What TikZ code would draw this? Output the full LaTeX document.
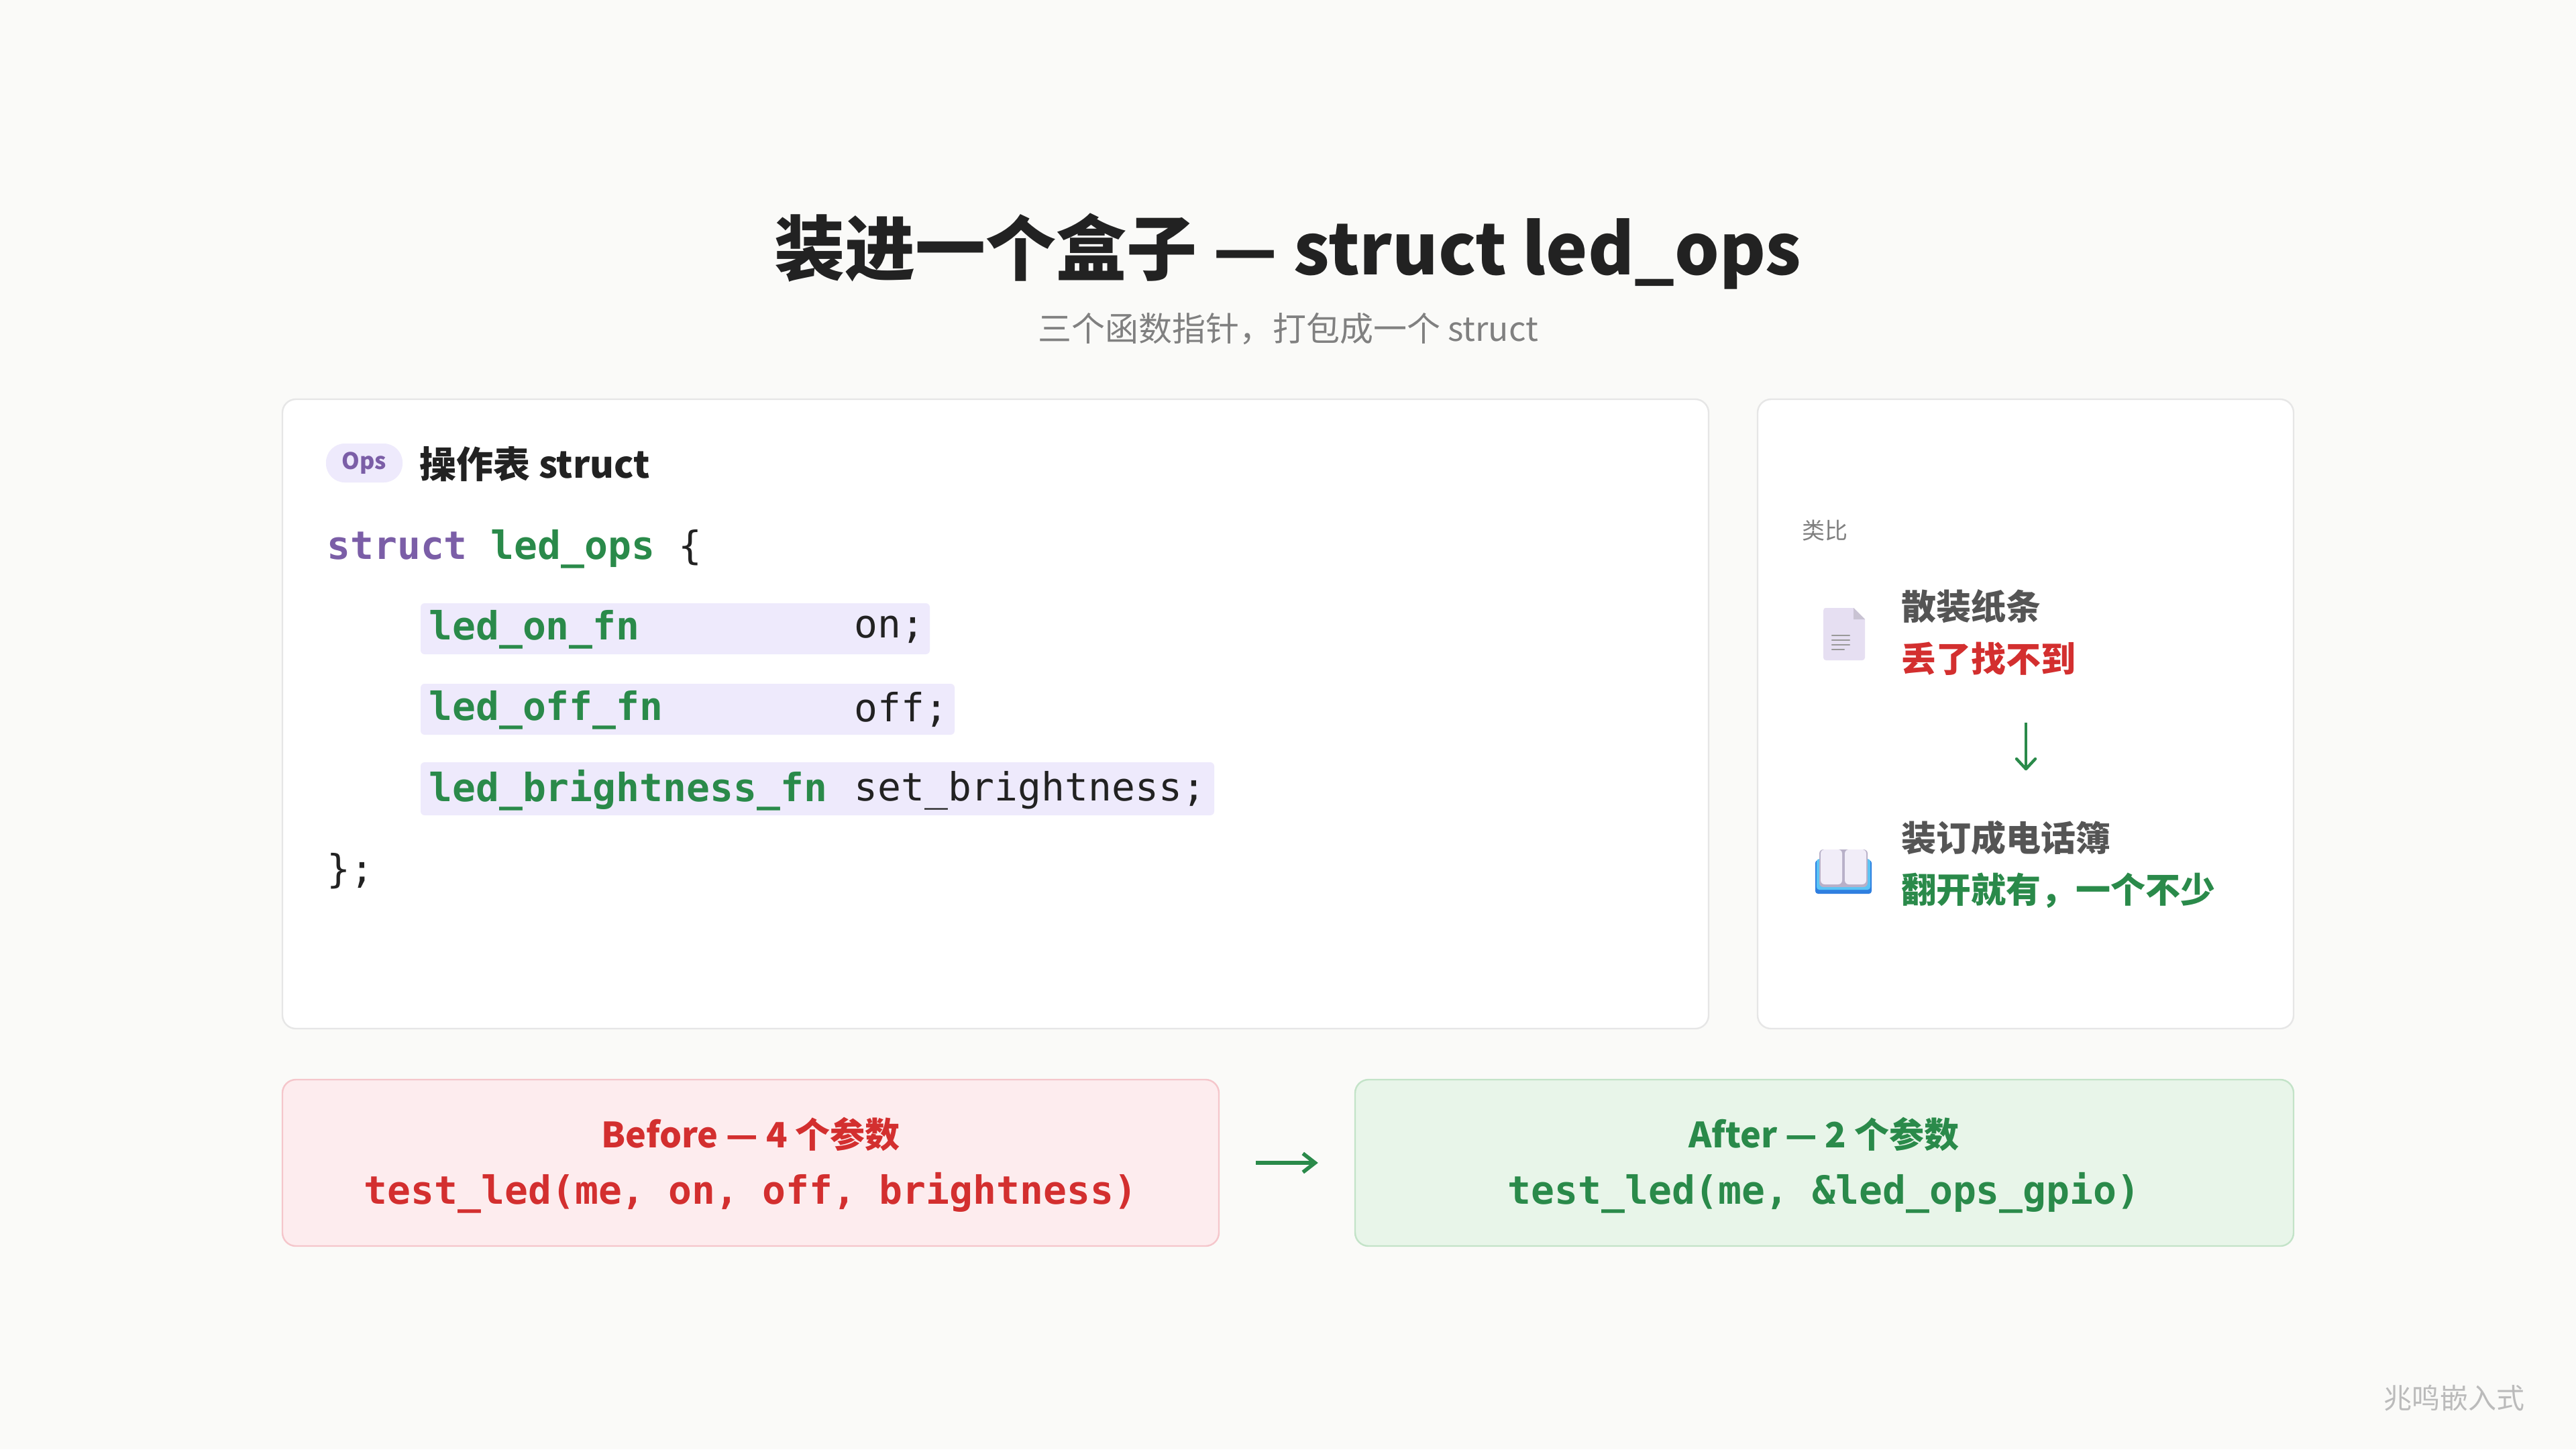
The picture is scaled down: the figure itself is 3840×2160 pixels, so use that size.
\documentclass[tikz,border=0pt]{standalone}
\usepackage{fontspec}
\usetikzlibrary{arrows.meta}
\setmainfont{Noto Sans CJK SC}
\newfontfamily\cjk{Noto Sans CJK SC}
\newcommand\cjkb{\cjk\bfseries}
\setmonofont{DejaVu Sans Mono}
\definecolor{bg}{HTML}{FAFAF8}
\definecolor{cardb}{HTML}{E6E6E6}
\definecolor{kw}{HTML}{7B5EA7}
\definecolor{gr}{HTML}{2A8A4A}
\definecolor{rd}{HTML}{D32F2F}
\definecolor{hl}{HTML}{EEEAFC}
\definecolor{txt}{HTML}{222222}
\definecolor{dg}{HTML}{555555}
\definecolor{docf}{HTML}{E6DFF2}
\definecolor{docc}{HTML}{C9C3D3}
\definecolor{docl}{HTML}{999999}
\definecolor{bk1}{HTML}{2F7FE0}
\definecolor{bk2}{HTML}{5BC4F5}
\definecolor{bk3}{HTML}{B8B0C8}
\definecolor{bk4}{HTML}{F1EDF8}
\definecolor{rb}{HTML}{F5C6CB}
\definecolor{rf}{HTML}{FDECEE}
\definecolor{gb}{HTML}{C3E3C8}
\definecolor{gf}{HTML}{E8F5E9}
\definecolor{wmc}{HTML}{BBBBBB}
\begin{document}
\begin{tikzpicture}[x=0.5pt,y=-0.5pt,
  card/.style={draw=cardb,line width=1.2pt,fill=white,rounded corners=10pt},
  code/.style={font=\ttfamily\fontsize{29}{34}\selectfont,anchor=west,inner sep=0},
  hlbox/.style={fill=hl,rounded corners=3pt},
  lbl/.style={font=\cjkb\fontsize{26}{30}\selectfont,anchor=west,inner sep=0},
  cmp/.style={line width=1.2pt,rounded corners=10pt,minimum width=698pt,minimum height=124pt,inner sep=0}]
\fill[bg] (0,0) rectangle (3840,2160);
\node[font=\cjkb\fontsize{52.5}{60}\selectfont,text=txt] (title) at (1920,375) {装进一个盒子 — struct led\_ops};
\node[font=\cjk\fontsize{25}{28}\selectfont,text=gray] (sub) at (1920,490) {三个函数指针，打包成一个 struct};
% cards
\draw[card] (421,595) rectangle (2547,1533);
\draw[card] (2620,595) rectangle (3419,1533);
% left card
\node[fill=hl,rounded corners=14pt,minimum width=57pt,minimum height=29pt,inner sep=0,font=\cjkb\fontsize{17}{20}\selectfont,text=kw] (ops) at (543,690) {Ops};
\node[font=\cjkb\fontsize{27.5}{32}\selectfont,text=txt,anchor=west,inner sep=0] (head) at (625,692) {操作表 struct};
\node[code] (l0) at (487,818) {\textcolor{kw}{\bfseries struct} \textcolor{gr}{\bfseries led\_ops} \textcolor{txt}{\{}};
\fill[hlbox] (627,899) rectangle (1386,975);
\fill[hlbox] (627,1019) rectangle (1423,1095);
\fill[hlbox] (627,1136) rectangle (1810,1215);
\node[code,text=gr,font=\ttfamily\bfseries\fontsize{29}{34}\selectfont] (t1) at (639,938) {led\_on\_fn};
\node[code,text=gr,font=\ttfamily\bfseries\fontsize{29}{34}\selectfont] (t2) at (639,1058) {led\_off\_fn};
\node[code,text=gr,font=\ttfamily\bfseries\fontsize{29}{34}\selectfont] (t3) at (639,1178) {led\_brightness\_fn};
\node[code,text=txt] (n1) at (1273,938) {on;};
\node[code,text=txt] (n2) at (1273,1058) {off;};
\node[code,text=txt] (n3) at (1273,1178) {set\_brightness;};
\node[code,text=txt] (l4) at (487,1298) {\};};
% right card
\node[font=\cjk\fontsize{17}{20}\selectfont,text=gray,anchor=west,inner sep=0] (an) at (2686,791) {类比};
% doc icon
\fill[docf] (2718,906) -- (2763,906) -- (2780,923) -- (2780,980) arc[start angle=0,end angle=90,radius=4] -- (2722,984) arc[start angle=90,end angle=180,radius=4] -- (2718,910) arc[start angle=180,end angle=270,radius=4] -- cycle;
\fill[docc] (2763,906) -- (2780,923) -- (2763,923) -- cycle;
\foreach \yy/\ww in {947/26,954/26,961/26,968/18}{\draw[docl,line width=1.2pt,line cap=round] (2731,\yy) -- ++(\ww,0);}
\node[lbl,text=dg] (a1) at (2834,904) {散装纸条};
\node[lbl,text=rd] (a2) at (2834,982) {丢了找不到};
\coordinate (ar1) at (3020,1077); \coordinate (ar2) at (3020,1146);
\draw[gr,line width=2.2pt] (ar1) -- (ar2);
\draw[gr,line width=2.2pt,line cap=round,line join=round] (3006,1131) -- (ar2) -- (3034,1131);
% book icon
\fill[bk1,rounded corners=2pt] (2706,1282) rectangle (2790,1332);
\fill[bk2,rounded corners=2pt] (2708,1280) rectangle (2788,1326);
\fill[bk3,rounded corners=3pt] (2712,1266) rectangle (2784,1322);
\fill[bk4,rounded corners=3pt] (2714,1266) rectangle (2746,1318);
\fill[bk4,rounded corners=3pt] (2750,1266) rectangle (2782,1318);
\node[lbl,text=dg] (b1) at (2834,1249) {装订成电话簿};
\node[lbl,text=gr] (b2) at (2834,1327) {翻开就有，一个不少};
% bottom
\node[cmp,draw=rb,fill=rf] (before) at (1119,1733) {};
\node[cmp,draw=gb,fill=gf,minimum width=699.5pt] (after) at (2719.5,1733) {};
\node[font=\cjkb\fontsize{26}{30}\selectfont,text=rd] (bt) at (1119,1690) {Before — 4 个参数};
\node[font=\ttfamily\bfseries\fontsize{29}{34}\selectfont,text=rd] (bc) at (1119,1778) {test\_led(me, on, off, brightness)};
\node[font=\cjkb\fontsize{26}{30}\selectfont,text=gr] (at) at (2719,1690) {After — 2 个参数};
\node[font=\ttfamily\bfseries\fontsize{29}{34}\selectfont,text=gr] (ac) at (2719,1778) {test\_led(me, \&led\_ops\_gpio)};
\draw[gr,line width=2.8pt,-{Straight Barb[length=9pt,width=14pt]}] ([xshift=27pt]before.east) -- ([xshift=-27pt]after.west);
\node[font=\cjk\fontsize{21}{24}\selectfont,text=wmc] (wm) at (3658,2084) {兆鸣嵌入式};
\end{tikzpicture}
\end{document}
